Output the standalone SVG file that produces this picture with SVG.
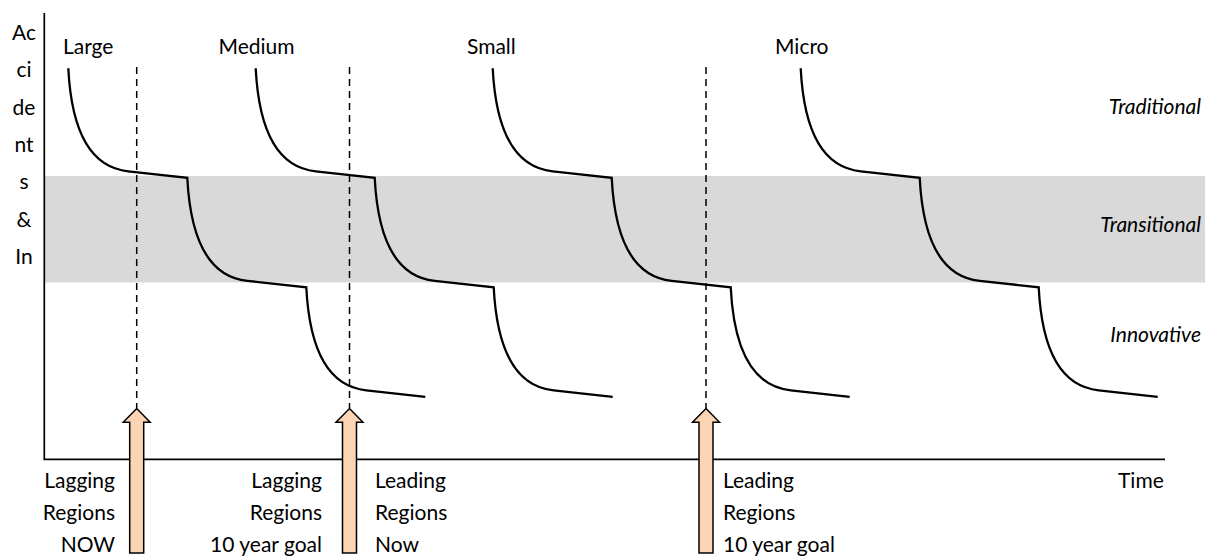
<svg xmlns="http://www.w3.org/2000/svg" width="1205" height="557" viewBox="0 0 1205 557">
  <defs>
    <style>
      .lbl { font-family: Lato, "Liberation Sans", sans-serif; font-size: 21px; fill: #000; }
      .zone { font-family: Lato, "Liberation Sans", sans-serif; font-size: 21px; font-style: italic; fill: #000; text-anchor: end; }
      .axis { stroke: #000; stroke-width: 1.7; fill: none; }
      .curve { stroke: #000; stroke-width: 2.3; fill: none; stroke-linejoin: miter; }
      .guide { stroke: #000; stroke-width: 1.5; stroke-dasharray: 7 5; fill: none; }
      .marker-arrow { fill: #FBD4B4; stroke: #000; stroke-width: 1.5; stroke-linejoin: miter; }
    </style>
  </defs>
  <rect width="1205" height="557" fill="#ffffff"/>

  <!-- transitional band -->
  <rect id="band" x="45" y="176" width="1160" height="106.5" fill="#D9D9D9"/>

  <!-- axes -->
  <g id="axes">
    <line class="axis" x1="44.3" y1="13" x2="44.3" y2="459.3"/>
    <line class="axis" x1="43.5" y1="459.3" x2="1165" y2="459.3"/>
  </g>

  <!-- y-axis title, one fragment per line -->
  <g id="y-title" class="lbl" text-anchor="middle">
    <text x="24" y="40">Ac</text>
    <text x="24" y="77.3">ci</text>
    <text x="24" y="114.6">de</text>
    <text x="24" y="151.9">nt</text>
    <text x="24" y="189.2">s</text>
    <text x="24" y="226.5">&amp;</text>
    <text x="24" y="263.8">In</text>
  </g>

  <!-- zone names -->
  <g id="zones">
    <text class="zone" x="1201" y="114">Traditional</text>
    <text class="zone" x="1201" y="232">Transitional</text>
    <text class="zone" x="1201" y="342">Innovative</text>
  </g>

  <!-- stepped learning curves: each step drops one zone -->
  <g id="curve-large">
    <text class="lbl" x="63" y="54">Large</text>
    <path class="curve" d="M68.3 68.3 c3 60 20 99 60 103 l59 6.5 c3 60 20 99 60 103 l59 6.5 c3 60 20 99 60 103 l59 6.5"/>
  </g>
  <g id="curve-medium">
    <text class="lbl" x="218.5" y="54">Medium</text>
    <path class="curve" d="M255.7 68.3 c3 60 20 99 60 103 l59 6.5 c3 60 20 99 60 103 l59 6.5 c3 60 20 99 60 103 l59 6.5"/>
  </g>
  <g id="curve-small">
    <text class="lbl" x="467" y="54">Small</text>
    <path class="curve" d="M492.7 68.3 c3 60 20 99 60 103 l59 6.5 c3 60 20 99 60 103 l59 6.5 c3 60 20 99 60 103 l59 6.5"/>
  </g>
  <g id="curve-micro">
    <text class="lbl" x="775" y="54">Micro</text>
    <path class="curve" d="M800.7 68.3 c3 60 20 99 60 103 l59 6.5 c3 60 20 99 60 103 l59 6.5 c3 60 20 99 60 103 l59 6.5"/>
  </g>

  <!-- milestone markers: dashed guide + block arrow -->
  <g id="connectors">
    <line class="guide" x1="136.7" y1="67" x2="136.7" y2="408"/>
    <line class="guide" x1="349.5" y1="67" x2="349.5" y2="408"/>
    <line class="guide" x1="706" y1="67" x2="706" y2="408"/>
    <path class="marker-arrow" d="M136.7 408.5 L150.2 422.3 L143.7 422.3 L143.7 553 L129.7 553 L129.7 422.3 L123.2 422.3 Z"/>
    <path class="marker-arrow" d="M349.5 408.5 L363 422.3 L356.5 422.3 L356.5 553 L342.5 553 L342.5 422.3 L336 422.3 Z"/>
    <path class="marker-arrow" d="M706 408.5 L719.5 422.3 L713 422.3 L713 553 L699 553 L699 422.3 L692.5 422.3 Z"/>
  </g>

  <!-- milestone captions -->
  <g id="lagging-now" class="lbl" text-anchor="end">
    <text x="115" y="488">Lagging</text>
    <text x="115" y="520">Regions</text>
    <text x="115" y="552">NOW</text>
  </g>
  <g id="lagging-goal" class="lbl" text-anchor="end">
    <text x="322" y="488">Lagging</text>
    <text x="322" y="520">Regions</text>
    <text x="322" y="552">10 year goal</text>
  </g>
  <g id="leading-now" class="lbl">
    <text x="375" y="488">Leading</text>
    <text x="375" y="520">Regions</text>
    <text x="375" y="552">Now</text>
  </g>
  <g id="leading-goal" class="lbl">
    <text x="723" y="488">Leading</text>
    <text x="723" y="520">Regions</text>
    <text x="723" y="552">10 year goal</text>
  </g>

  <g id="time-label">
    <text class="lbl" x="1118" y="488">Time</text>
  </g>
</svg>
